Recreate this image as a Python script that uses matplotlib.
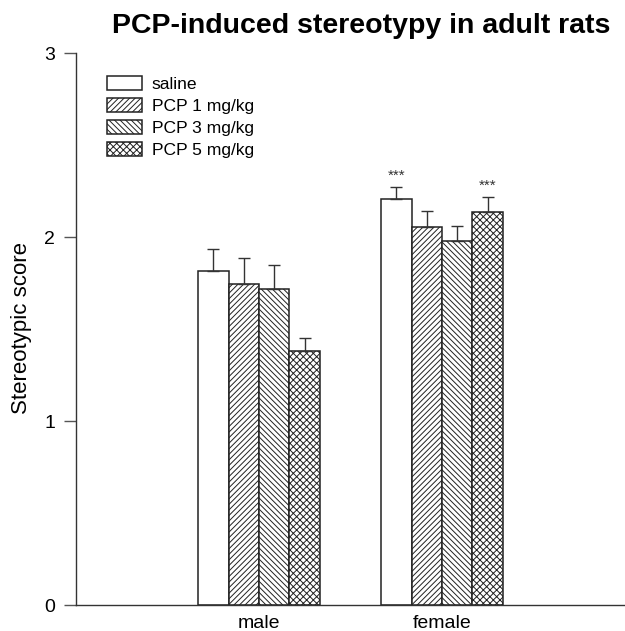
import numpy as np
import matplotlib.pyplot as plt

plt.rcParams['font.family'] = ['Liberation Sans', 'DejaVu Sans']
plt.rcParams['hatch.linewidth'] = 0.7

groups = ['male', 'female']
series = ['saline', 'PCP 1 mg/kg', 'PCP 3 mg/kg', 'PCP 5 mg/kg']
# mean score per series, [male, female]
means = [[1.815, 2.205],
         [1.745, 2.056],
         [1.717, 1.978],
         [1.379, 2.134]]
sems = [[0.12, 0.067],
        [0.14, 0.084],
        [0.13, 0.083],
        [0.072, 0.085]]
# significance marks per series, [male, female]
stars = [['', '***'],
         ['', ''],
         ['', ''],
         ['', '***']]
hatches = ['', '//////', '\\\\\\\\\\\\', 'xxxxx']

fig = plt.figure(figsize=(6.25, 6.31), dpi=100)
ax = fig.add_axes([76/625, 26/631, 549/625, 552/631])

x = np.arange(1, len(groups) + 1)
w = 0.166
for i in range(len(series)):
    pos = x + (i - 1.5) * w
    ax.bar(pos, means[i], w, color='white', edgecolor='#222222',
           linewidth=1.1, hatch=hatches[i], label=series[i])
    ax.errorbar(pos, means[i], yerr=[np.zeros(len(groups)), sems[i]],
                fmt='none', ecolor='#333333', elinewidth=1.0,
                capsize=4.3, capthick=1.0)
    for j in range(len(groups)):
        if stars[i][j]:
            ax.text(pos[j], means[i][j] + sems[i][j] + 0.02, stars[i][j],
                    ha='center', va='bottom', fontsize=11, color='#333333')

ax.set_xlim(0, 3)
ax.set_ylim(0, 3)
ax.set_yticks([0, 1, 2, 3])
ax.set_xticks(x)
ax.set_xticklabels(groups)
ax.tick_params(axis='x', length=0, pad=7, labelsize=14)
ax.tick_params(axis='y', length=9, width=1.0, pad=6, labelsize=14,
               color='#555555')
for s in ['top', 'right']:
    ax.spines[s].set_visible(False)
for s in ['left', 'bottom']:
    ax.spines[s].set_linewidth(1.0)
    ax.spines[s].set_color('#333333')

fig.text(22/625, 1 - 328/631, 'Stereotypic score', rotation=90,
         ha='center', va='center', fontsize=16)
fig.text(361/625, 1 - 33/631, 'PCP-induced stereotypy in adult rats',
         ha='center', va='baseline', fontsize=20.5, fontweight='bold')

ax.legend(loc='upper left', bbox_to_anchor=(107/625, 1 - 76/631),
          bbox_transform=fig.transFigure, frameon=False, fontsize=12.6,
          borderpad=0, borderaxespad=0, handlelength=2.0,
          handleheight=0.85, handletextpad=0.55, labelspacing=0.34)

fig.savefig('out.png', dpi=100)
